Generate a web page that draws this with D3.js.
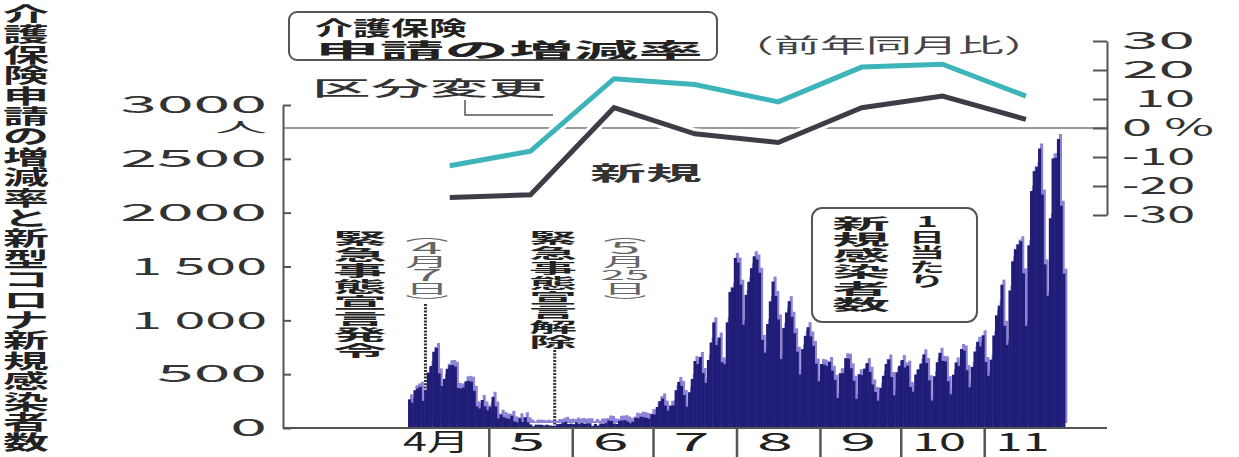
<!DOCTYPE html>
<html>
<head>
<meta charset="utf-8">
<script src="https://cdn.jsdelivr.net/npm/d3@7"></script>
<style>
  body { margin: 0; background: #fff; }
  svg { display: block; font-family: "Noto Sans CJK JP", "Noto Sans", sans-serif; }
</style>
</head>
<body>
<div id="chart"></div>
<script>
// 介護保険申請の増減率 (前年同月比, %) 4月〜11月
var rateMonthLabels = ["4月", "5", "6", "7", "8", "9", "10", "11"];
var kubunRate  = [-13, -8, 17, 15, 9, 21, 22, 11];   // 区分変更
var shinkiRate = [-24, -23, 7, -2, -5, 7, 11, 3];    // 新規

var countTicks = [0, 500, 1000, 1500, 2000, 2500, 3000];
var countTickLabels = ["0", "500", "1 000", "1 500", "2000", "2500", "3000"];
var rateTicks = [-30, -20, -10, 0, 10, 20, 30];
var rateTickLabels = ["-30", "-20", "-10", "0 %", "10", "20", "30"];

// 1日当たり新規感染者数
var casesApr = [266,235,351,367,383,252,351,515,576,708,743,507,390,457,550,583,585,569,372,367,376,434,438,430,345,201,181,260,201,165];
var casesMay = [194,290,200,88,123,101,89,85,114,61,53,90,55,99,53,33,16,31,31,30,24,31,24,21,21,36,38,49,58,37,41];
var casesJun = [36,51,41,47,40,44,44,19,38,23,42,41,46,70,66,42,38,67,69,73,60,45,59,96,90,105,101,93,86,129];
var casesJul = [125,195,250,274,208,163,207,210,351,428,391,307,198,332,456,622,593,660,511,419,631,794,981,770,841,611,592,981,1264,1301,1580];
var casesAug = [1536,1331,959,1237,1358,1485,1595,1566,1442,819,700,966,1176,1360,1227,1008,640,930,1073,1178,1033,880,709,496,733,856,936,851,763,598,434];
var casesSep = [594,589,577,613,532,448,279,509,509,649,644,555,439,269,500,491,552,603,521,404,335,254,374,485,595,636,474,303,518,578];
var casesOct = [631,562,579,382,337,497,544,599,684,604,443,255,481,611,699,624,619,435,313,495,609,576,734,720,537,378,568,710,801,758,861];
var casesNov = [613,482,635,859,1046,1137,1331,949,772,1277,1548,1661,1704,1735,1437,949,1697,2201,2386,2424,2596,2168,1520,1228,1948,2504,2509,2684,2064,1434];

var dims = {
    width: 1239,
    height: 457,
    navy: "#201d78",
    ghost: "#8e84d6",
    teal: "#3db4b9",
    dark: "#3d3d47",
    axis: "#555"
};

var start = new Date(2020, 3, 1);
var daily = [].concat(casesApr, casesMay, casesJun, casesJul, casesAug, casesSep, casesOct, casesNov)
    .map(function(v, i){ return {date: d3.timeDay.offset(start, i), v: v}; });

var x = d3.scaleTime()
    .domain([start, new Date(2020, 11, 1)])
    .range([408, 1065]);
var y = d3.scaleLinear()
    .domain([0, 3000])
    .range([428, 105]);
var y2 = d3.scaleLinear()
    .domain([-30, 30])
    .range([215, 41]);

var svg = d3.select('#chart')
    .append('svg')
    .attr('width', dims.width)
    .attr('height', dims.height);

// widen a text horizontally to w px, keeping its anchor point in place
function stretch(sel, w){
    sel.each(function(d, i){
        var t = d3.select(this);
        var nat = this.getComputedTextLength();
        var target = typeof w === 'function' ? w(d, i) : w;
        if (!nat) return;
        var ax = parseFloat(t.attr('x')) || 0;
        t.attr('transform', 'translate(' + ax + ',0) scale(' + (target / nat) + ',1) translate(' + (-ax) + ',0)');
    });
}

// vertical column of characters, one text element, widened so a kanji is w px
function vcol(chars, cx, cy0, step, w, size, color, weight){
    var t = svg.append('text')
        .attr('x', cx)
        .attr('text-anchor', 'middle')
        .attr('dominant-baseline', 'central')
        .attr('font-size', size)
        .attr('font-weight', weight)
        .attr('fill', color)
        .attr('transform', 'translate(' + cx + ',0) scale(' + (w / size) + ',1) translate(' + (-cx) + ',0)');
    t.selectAll('tspan')
        .data(chars)
        .join('tspan')
        .attr('x', cx)
        .attr('y', function(d, i){ return cy0 + i * step; })
        .attr('font-size', function(d){ return /[0-9]/.test(d) && d.length === 1 && d !== '1' ? size * 1.25 : size; })
        .text(function(d){ return d; });
}

// left title
vcol("介護保険申請の増減率と新型コロナ新規感染者数".split(""), 26, 13, 20.4, 46, 20, "#222", 700);

// 0% reference line
svg.append('line')
    .attr('x1', 283).attr('x2', 1107)
    .attr('y1', y2(0)).attr('y2', y2(0))
    .attr('stroke', '#777').attr('stroke-width', 1.5);

// dashed markers for 4/7 and 5/25
var markers = [
    {date: new Date(2020, 3, 7), top: 304},
    {date: new Date(2020, 4, 25), top: 350}
];
svg.append('g').selectAll('line')
    .data(markers)
    .join('line')
    .attr('x1', function(d){ return x(d.date) + 1.3; })
    .attr('x2', function(d){ return x(d.date) + 1.3; })
    .attr('y1', function(d){ return d.top; })
    .attr('y2', y(0))
    .attr('stroke', '#333')
    .attr('stroke-width', 3)
    .attr('stroke-dasharray', '2,1.3');

// bars: a light ghost layer offset a little, then the navy bars
function barW(d){ return x(d3.timeDay.offset(d.date, 1)) - x(d.date) + 0.4; }
svg.append('g')
    .attr('transform', 'translate(2,-5)')
    .selectAll('rect')
    .data(daily)
    .join('rect')
    .attr('x', function(d){ return x(d.date); })
    .attr('width', barW)
    .attr('y', function(d){ return y(d.v); })
    .attr('height', function(d){ return y(0) - y(d.v); })
    .attr('fill', dims.ghost);
svg.append('g')
    .selectAll('rect')
    .data(daily)
    .join('rect')
    .attr('x', function(d){ return x(d.date); })
    .attr('width', barW)
    .attr('y', function(d){ return y(d.v); })
    .attr('height', function(d){ return y(0) - y(d.v); })
    .attr('fill', dims.navy);

// rate lines
function rateData(arr){
    return arr.map(function(v, i){ return {date: new Date(2020, 3 + i, 16, 12), v: v}; });
}
var line = d3.line()
    .x(function(d){ return x(d.date); })
    .y(function(d){ return y2(d.v); });
[[kubunRate, dims.teal], [shinkiRate, dims.dark]].forEach(function(s){
    svg.append('path')
        .attr('d', line(rateData(s[0])))
        .attr('fill', 'none')
        .attr('stroke', '#fff')
        .attr('stroke-width', 11);
    svg.append('path')
        .attr('d', line(rateData(s[0])))
        .attr('fill', 'none')
        .attr('stroke', s[1])
        .attr('stroke-width', 5);
});

// left axis
var leftAxis = svg.append('g')
    .attr('transform', 'translate(283,0)')
    .call(d3.axisLeft(y)
        .tickValues(countTicks)
        .tickSize(-8)
        .tickSizeOuter(0)
        .tickPadding(16)
        .tickFormat(function(d, i){ return countTickLabels[i]; }));
leftAxis.selectAll('path, line').attr('stroke', dims.axis).attr('stroke-width', 2);
leftAxis.selectAll('text')
    .attr('font-size', 24)
    .attr('fill', '#333')
    .attr('font-family', '"Noto Sans CJK JP", sans-serif')
    .call(stretch, function(d, i){
        var s = countTickLabels[i].replace(' ', '');
        return s.length * 36.7 - (s.length === 4 && s[0] === '1' ? 11 : 0);
    });
svg.append('text')
    .attr('x', 267).attr('y', 132)
    .attr('text-anchor', 'end')
    .attr('font-size', 14)
    .attr('fill', '#333')
    .text('人')
    .call(stretch, 52);

// right axis
var rightAxis = svg.append('g')
    .attr('transform', 'translate(1107,0)')
    .call(d3.axisRight(y2)
        .tickValues(rateTicks)
        .tickSize(-14)
        .tickSizeOuter(0)
        .tickPadding(15)
        .tickFormat(function(d, i){ return rateTickLabels[i]; }));
rightAxis.selectAll('path, line').attr('stroke', dims.axis).attr('stroke-width', 2);
rightAxis.selectAll('text')
    .attr('font-size', 24)
    .attr('fill', '#333')
    .attr('font-family', '"Noto Sans CJK JP", sans-serif')
    .each(function(d){
        if (d !== 0) d3.select(this).attr('text-anchor', 'end').attr('x', 88);
    })
    .call(stretch, function(d){ return d === 0 ? 92 : d === 10 ? 60 : 73; });

// x axis
svg.append('line')
    .attr('x1', 283).attr('x2', 1107)
    .attr('y1', y(0)).attr('y2', y(0))
    .attr('stroke', dims.axis).attr('stroke-width', 2);
var xAxis = svg.append('g')
    .attr('transform', 'translate(0,' + y(0) + ')')
    .call(d3.axisBottom(x)
        .tickValues(d3.timeMonth.range(new Date(2020, 4, 1), new Date(2020, 11, 1)))
        .tickSize(29)
        .tickFormat(''));
xAxis.select('.domain').remove();
xAxis.selectAll('line').attr('stroke', dims.axis).attr('stroke-width', 2.5);
svg.append('g').selectAll('text')
    .data(rateMonthLabels)
    .join('text')
    .attr('x', function(d, i){ return x(new Date(2020, 3 + i, 16)) + (i === 0 ? -12 : -2); })
    .attr('y', 451)
    .attr('text-anchor', 'middle')
    .attr('font-size', 25)
    .attr('fill', '#222')
    .text(function(d){ return d; })
    .call(stretch, function(d){ return d === '4月' ? 67 : d.length === 1 ? 36 : 54; });

// title box
svg.append('rect')
    .attr('x', 289).attr('y', 12)
    .attr('width', 428).attr('height', 48)
    .attr('rx', 8)
    .attr('fill', '#fff')
    .attr('stroke', '#555')
    .attr('stroke-width', 2);
svg.append('text')
    .attr('x', 315).attr('y', 36)
    .attr('font-size', 20).attr('font-weight', 700).attr('fill', '#222')
    .text('介護保険')
    .call(stretch, 152);
svg.append('text')
    .attr('x', 315).attr('y', 58)
    .attr('font-size', 20).attr('font-weight', 700).attr('fill', '#222')
    .text('申請の増減率')
    .call(stretch, 388);
svg.append('text')
    .attr('x', 728).attr('y', 53)
    .attr('font-size', 20).attr('fill', '#444')
    .text('（前年同月比）')
    .call(stretch, 322);

// series labels
svg.append('text')
    .attr('x', 312).attr('y', 96)
    .attr('font-size', 20).attr('font-weight', 500).attr('fill', '#333')
    .text('区分変更')
    .call(stretch, 235);
svg.append('path')
    .attr('d', 'M465,100V115H553')
    .attr('fill', 'none')
    .attr('stroke', '#555')
    .attr('stroke-width', 1.5);
svg.append('text')
    .attr('x', 590).attr('y', 181)
    .attr('font-size', 20).attr('font-weight', 700).attr('fill', '#333')
    .text('新規')
    .call(stretch, 112);

// annotations
vcol("緊急事態宣言発令".split(""), 360, 237, 16, 54, 15, "#222", 700);
vcol(["︵", "4", "月", "7", "日", "︶"], 427, 234, 13.2, 44, 13, "#666", 400);
vcol("緊急事態宣言解除".split(""), 553, 237, 14.8, 48, 14, "#222", 700);
vcol(["︵", "5", "月", "25", "日", "︶"], 625, 234, 13.2, 44, 13, "#666", 400);

// per-day box
svg.append('rect')
    .attr('x', 812).attr('y', 208)
    .attr('width', 165).attr('height', 114)
    .attr('rx', 10)
    .attr('fill', '#fff')
    .attr('stroke', '#555')
    .attr('stroke-width', 2);
vcol(["1", "日", "当", "た", "り"], 927, 221, 14.8, 36, 14, "#222", 700);
vcol("新規感染者数".split(""), 861, 222, 16.2, 58, 15, "#222", 700);
</script>
</body>
</html>
